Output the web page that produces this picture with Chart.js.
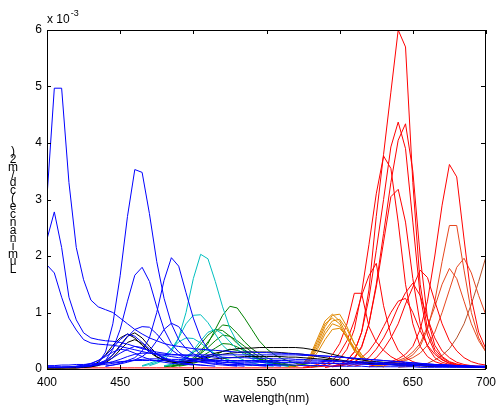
<!DOCTYPE html>
<html>
<head>
<meta charset="utf-8">
<script src="https://cdn.jsdelivr.net/npm/chart.js@4/dist/chart.umd.min.js"></script>
<style>
  html, body { margin: 0; padding: 0; background: #fff; }
  #wrap { width: 496px; height: 410px; }
</style>
</head>
<body>
<div id="wrap"><canvas id="spectra" width="496" height="410"></canvas></div>
<script>
// luminance spectra, values in units of 1e-3, sampled every 5 nm
const STEP = 5;
const xTicks = [400, 450, 500, 550, 600, 650, 700];
const yTicks = [0, 1, 2, 3, 4, 5, 6];
const yLabel = "Luminance(cd/m2)";
const xLabel = "wavelength(nm)";

// blue
const blue1 = { from: 400, y: [
  3.05, 4.97, 4.97, 3.3, 2.15, 1.58, 1.22, 1.1, 1.05, 1.0,
  0.9, 0.8, 0.7, 0.62, 0.55, 0.5, 0.45, 0.42, 0.4, 0.38,
  0.36, 0.35, 0.34, 0.33, 0.32, 0.31, 0.3, 0.3, 0.3, 0.29,
  0.29, 0.28, 0.28, 0.27, 0.27, 0.26, 0.25, 0.24, 0.23, 0.22,
  0.21, 0.2, 0.19, 0.18, 0.17, 0.16, 0.15, 0.14, 0.13, 0.12,
  0.11, 0.1, 0.09, 0.08, 0.08, 0.07, 0.06, 0.06, 0.05, 0.05,
  0.05] };
const blue2 = { from: 400, y: [
  2.3, 2.78, 2.15, 1.27, 0.87, 0.64, 0.55, 0.52, 0.5, 0.49,
  0.47, 0.44, 0.4, 0.36, 0.33, 0.3, 0.28, 0.26, 0.25, 0.24,
  0.23, 0.22, 0.22, 0.21, 0.21, 0.2, 0.2, 0.2, 0.19, 0.19,
  0.19, 0.18, 0.18, 0.18, 0.17, 0.17, 0.16, 0.16, 0.15, 0.15,
  0.14, 0.14, 0.13, 0.13, 0.12, 0.12, 0.11, 0.11, 0.1, 0.1,
  0.09, 0.09, 0.08, 0.08, 0.07, 0.07, 0.06, 0.06, 0.05, 0.05,
  0.05] };
const blue3 = { from: 400, y: [
  1.84, 1.7, 1.27, 0.9, 0.69, 0.52, 0.46, 0.44, 0.43, 0.42,
  0.4, 0.37, 0.34, 0.31, 0.28, 0.26, 0.24, 0.22, 0.2, 0.19,
  0.18, 0.17, 0.16, 0.16, 0.15, 0.15, 0.14, 0.14, 0.14, 0.13,
  0.13, 0.13, 0.12, 0.12, 0.12, 0.11, 0.11, 0.11, 0.1, 0.1,
  0.1, 0.09, 0.09, 0.09, 0.08, 0.08, 0.08, 0.07, 0.07, 0.07,
  0.06, 0.06, 0.06, 0.05, 0.05, 0.05, 0.04, 0.04, 0.04, 0.04,
  0.03] };
const blue4 = { from: 400, y: [
  0.03, 0.03, 0.03, 0.03, 0.04, 0.04, 0.05, 0.1, 0.3, 0.8,
  1.65, 2.7, 3.53, 3.48, 2.75, 1.9, 1.25, 0.8, 0.52, 0.36,
  0.27, 0.21, 0.17, 0.14, 0.12, 0.11, 0.1, 0.09, 0.09, 0.08,
  0.08, 0.08, 0.07, 0.07, 0.07, 0.06, 0.06, 0.06, 0.06, 0.05,
  0.05, 0.05, 0.05, 0.05, 0.04, 0.04, 0.04, 0.04, 0.04, 0.04,
  0.04, 0.03, 0.03, 0.03, 0.03, 0.03, 0.03, 0.03, 0.03, 0.03,
  0.03] };
const blue5 = { from: 420, y: [
  0.03, 0.04, 0.06, 0.09, 0.15, 0.35, 0.7, 1.2, 1.66, 1.8,
  1.55, 1.1, 0.7, 0.45, 0.3, 0.21, 0.16, 0.13, 0.11, 0.1,
  0.09, 0.08, 0.08, 0.07, 0.07, 0.06, 0.06, 0.06, 0.05] };
const blue6 = { from: 440, y: [
  0.05, 0.07, 0.1, 0.15, 0.2, 0.32, 0.55, 1.0, 1.57, 1.97,
  1.82, 1.35, 0.9, 0.55, 0.35, 0.23, 0.16, 0.12, 0.1, 0.08,
  0.07, 0.06, 0.05] };
const blue7 = { from: 440, y: [
  0.05, 0.07, 0.09, 0.12, 0.16, 0.22, 0.32, 0.5, 0.7, 0.81,
  0.75, 0.57, 0.38, 0.25, 0.17, 0.12, 0.09, 0.07, 0.06, 0.05] };
const blue8 = { from: 420, y: [
  0.04, 0.05, 0.07, 0.1, 0.15, 0.25, 0.4, 0.57, 0.7, 0.75,
  0.74, 0.62, 0.47, 0.34, 0.25, 0.19, 0.15, 0.12, 0.1, 0.08,
  0.07, 0.06, 0.05] };
const blue9 = { from: 420, y: [
  0.04, 0.06, 0.09, 0.15, 0.24, 0.37, 0.52, 0.62, 0.58, 0.47,
  0.36, 0.27, 0.2, 0.15, 0.12, 0.1, 0.08, 0.07, 0.06, 0.05] };
const blue10 = { from: 430, y: [
  0.05, 0.08, 0.13, 0.2, 0.28, 0.35, 0.4, 0.38, 0.32, 0.25,
  0.19, 0.15, 0.12, 0.1, 0.08, 0.07, 0.06] };
const blue11 = { from: 420, y: [
  0.05, 0.07, 0.1, 0.15, 0.22, 0.3, 0.35, 0.33, 0.28, 0.22,
  0.17, 0.14, 0.12, 0.1, 0.09, 0.08, 0.07] };
const blueF1 = { from: 400, y: [
  0.06, 0.06, 0.07, 0.07, 0.08, 0.08, 0.09, 0.1, 0.11, 0.12,
  0.13, 0.14, 0.15, 0.15, 0.15, 0.15, 0.15, 0.14, 0.14, 0.14,
  0.13, 0.13, 0.13, 0.13, 0.12, 0.12, 0.12, 0.12, 0.12, 0.12,
  0.11, 0.11, 0.11, 0.11, 0.11, 0.1, 0.1, 0.1, 0.1, 0.1,
  0.09, 0.09, 0.09, 0.09, 0.08, 0.08, 0.08, 0.08, 0.07, 0.07,
  0.07, 0.06, 0.06, 0.06, 0.05, 0.05, 0.05, 0.04, 0.04, 0.04,
  0.03] };
const blueF2 = { from: 400, y: [
  0.03, 0.03, 0.03, 0.04, 0.04, 0.05, 0.06, 0.08, 0.1, 0.13,
  0.17, 0.22, 0.26, 0.28, 0.28, 0.27, 0.26, 0.25, 0.25, 0.25,
  0.25, 0.25, 0.25, 0.25, 0.25, 0.25, 0.25, 0.25, 0.25, 0.25,
  0.25, 0.25, 0.25, 0.25, 0.25, 0.24, 0.24, 0.23, 0.23, 0.22,
  0.21, 0.2, 0.19, 0.18, 0.17, 0.16, 0.15, 0.14, 0.13, 0.12,
  0.11, 0.1, 0.09, 0.08, 0.07, 0.06, 0.06, 0.05, 0.05, 0.04,
  0.04] };
const blueF3 = { from: 400, y: [
  0.04, 0.04, 0.04, 0.04, 0.05, 0.05, 0.06, 0.07, 0.08, 0.1,
  0.12, 0.14, 0.16, 0.17, 0.18, 0.18, 0.18, 0.17, 0.17, 0.16,
  0.16, 0.16, 0.15, 0.15, 0.15, 0.15, 0.15, 0.15, 0.15, 0.15,
  0.15, 0.15, 0.15, 0.15, 0.14, 0.14, 0.14, 0.14, 0.13, 0.13,
  0.13, 0.12, 0.12, 0.11, 0.11, 0.1, 0.1, 0.09, 0.09, 0.08,
  0.08, 0.07, 0.07, 0.06, 0.06, 0.05, 0.05, 0.04, 0.04, 0.04,
  0.03] };

// black (white LEDs)
const black1 = { from: 400, y: [
  0.02, 0.02, 0.02, 0.02, 0.02, 0.03, 0.04, 0.07, 0.13, 0.25,
  0.42, 0.58, 0.64, 0.55, 0.4, 0.27, 0.18, 0.14, 0.13, 0.14,
  0.17, 0.2, 0.24, 0.28, 0.31, 0.34, 0.36, 0.37, 0.37, 0.38,
  0.38, 0.38, 0.38, 0.38, 0.38, 0.37, 0.35, 0.32, 0.29, 0.26,
  0.23, 0.2, 0.18, 0.16, 0.14, 0.13, 0.12, 0.11, 0.1, 0.09,
  0.09, 0.08, 0.07, 0.07, 0.06, 0.06, 0.05, 0.05, 0.05, 0.04,
  0.04] };
const black2 = { from: 400, y: [
  0.02, 0.02, 0.02, 0.02, 0.02, 0.03, 0.04, 0.06, 0.11, 0.2,
  0.34, 0.47, 0.52, 0.45, 0.33, 0.22, 0.15, 0.12, 0.11, 0.11,
  0.12, 0.14, 0.16, 0.18, 0.19, 0.2, 0.21, 0.22, 0.22, 0.22,
  0.22, 0.22, 0.22, 0.21, 0.21, 0.2, 0.19, 0.18, 0.17, 0.16,
  0.14, 0.13, 0.12, 0.11, 0.1, 0.09, 0.08, 0.08, 0.07, 0.07,
  0.06, 0.06, 0.05, 0.05, 0.05, 0.04, 0.04, 0.04, 0.03, 0.03,
  0.03] };
const black3 = { from: 400, y: [
  0.02, 0.02, 0.02, 0.03, 0.03, 0.04, 0.06, 0.12, 0.25, 0.42,
  0.55, 0.62, 0.55, 0.42, 0.3, 0.21, 0.16, 0.13, 0.12, 0.13,
  0.15, 0.18, 0.21, 0.24, 0.26, 0.28, 0.29, 0.3, 0.3, 0.3,
  0.3, 0.3, 0.29, 0.28, 0.27, 0.26, 0.24, 0.22, 0.2, 0.18,
  0.16, 0.14, 0.13, 0.12, 0.11, 0.1, 0.09, 0.08, 0.07, 0.07,
  0.06, 0.06, 0.05, 0.05, 0.05, 0.04, 0.04, 0.04, 0.03, 0.03,
  0.03] };

// cyan
const cyan1 = { from: 470, y: [
  0.06, 0.1, 0.16, 0.3, 0.55, 1.0, 1.6, 2.03, 1.95, 1.55,
  1.1, 0.72, 0.47, 0.32, 0.22, 0.15, 0.11, 0.08, 0.06, 0.05] };
const cyan2 = { from: 465, y: [
  0.05, 0.08, 0.12, 0.2, 0.35, 0.55, 0.8, 0.95, 0.96, 0.82,
  0.62, 0.42, 0.3, 0.21, 0.15, 0.11, 0.08, 0.06, 0.05] };
const cyan3 = { from: 480, y: [
  0.06, 0.08, 0.12, 0.2, 0.33, 0.5, 0.65, 0.7, 0.62, 0.48,
  0.35, 0.25, 0.18, 0.13, 0.1, 0.08, 0.06] };
const cyan4 = { from: 465, y: [
  0.06, 0.1, 0.15, 0.23, 0.35, 0.48, 0.55, 0.54, 0.46, 0.36,
  0.27, 0.2, 0.15, 0.11, 0.08, 0.06] };
const cyan5 = { from: 480, y: [
  0.05, 0.08, 0.14, 0.22, 0.3, 0.35, 0.33, 0.27, 0.2, 0.15,
  0.11, 0.08, 0.06] };

// green
const green1 = { from: 480, y: [
  0.04, 0.05, 0.07, 0.1, 0.16, 0.28, 0.45, 0.7, 0.95, 1.11,
  1.08, 0.9, 0.7, 0.5, 0.36, 0.26, 0.19, 0.14, 0.1, 0.08,
  0.06, 0.05] };
const green2 = { from: 485, y: [
  0.05, 0.08, 0.12, 0.2, 0.32, 0.48, 0.65, 0.78, 0.76, 0.63,
  0.48, 0.36, 0.27, 0.2, 0.15, 0.11, 0.08, 0.06] };
const green3 = { from: 480, y: [
  0.05, 0.07, 0.11, 0.18, 0.29, 0.44, 0.6, 0.7, 0.68, 0.58,
  0.45, 0.34, 0.25, 0.18, 0.13, 0.1, 0.07, 0.05] };
const green4 = { from: 485, y: [
  0.05, 0.08, 0.12, 0.18, 0.27, 0.38, 0.5, 0.6, 0.58, 0.5,
  0.4, 0.3, 0.22, 0.16, 0.12, 0.09, 0.07, 0.05] };
const green5 = { from: 485, y: [
  0.04, 0.06, 0.09, 0.14, 0.21, 0.29, 0.37, 0.45, 0.44, 0.39,
  0.32, 0.25, 0.19, 0.14, 0.1, 0.08, 0.06] };
const green6 = { from: 490, y: [
  0.05, 0.07, 0.1, 0.14, 0.19, 0.25, 0.31, 0.35, 0.33, 0.28,
  0.22, 0.17, 0.13, 0.1, 0.08, 0.06] };

// orange
const orange1 = { from: 565, y: [0.04, 0.06, 0.1, 0.25, 0.55, 0.85, 0.97, 0.85, 0.6, 0.35, 0.2, 0.1, 0.06, 0.04] };
const orange2 = { from: 565, y: [0.04, 0.06, 0.1, 0.2, 0.45, 0.75, 0.95, 0.97, 0.75, 0.45, 0.25, 0.13, 0.07, 0.04] };
const orange3 = { from: 565, y: [0.04, 0.06, 0.1, 0.22, 0.5, 0.8, 0.9, 0.8, 0.55, 0.32, 0.18, 0.1, 0.06, 0.04] };
const orange4 = { from: 565, y: [0.04, 0.05, 0.08, 0.18, 0.4, 0.68, 0.85, 0.88, 0.7, 0.45, 0.25, 0.13, 0.07, 0.04] };
const orange5 = { from: 565, y: [0.04, 0.05, 0.08, 0.16, 0.36, 0.62, 0.8, 0.75, 0.55, 0.35, 0.2, 0.11, 0.06, 0.04] };
const orange6 = { from: 565, y: [0.04, 0.05, 0.07, 0.13, 0.3, 0.52, 0.7, 0.72, 0.58, 0.38, 0.22, 0.12, 0.07, 0.04] };

// red
const red1 = { from: 590, y: [
  0.03, 0.05, 0.08, 0.15, 0.3, 0.65, 1.4, 2.7, 3.8, 4.9,
  6.0, 5.7, 3.3, 1.5, 0.7, 0.35, 0.2, 0.12, 0.08, 0.06,
  0.05, 0.04, 0.03] };
const red2 = { from: 590, y: [
  0.03, 0.05, 0.08, 0.15, 0.3, 0.65, 1.25, 2.1, 3.0, 3.93,
  4.37, 3.9, 2.6, 1.3, 0.6, 0.3, 0.17, 0.1, 0.07, 0.05,
  0.04, 0.03, 0.03] };
const red3 = { from: 595, y: [
  0.04, 0.06, 0.1, 0.18, 0.38, 0.8, 1.5, 2.4, 3.3, 4.05,
  4.34, 3.5, 2.0, 0.9, 0.42, 0.22, 0.13, 0.09, 0.06, 0.05,
  0.04, 0.03] };
const red4 = { from: 400, y: [
  0.02, 0.02, 0.02, 0.02, 0.02, 0.02, 0.02, 0.02, 0.02, 0.02,
  0.02, 0.02, 0.02, 0.02, 0.02, 0.02, 0.02, 0.02, 0.02, 0.02,
  0.02, 0.02, 0.02, 0.02, 0.02, 0.02, 0.02, 0.02, 0.02, 0.02,
  0.02, 0.02, 0.02, 0.02, 0.02, 0.02, 0.03, 0.04, 0.05, 0.1,
  0.18, 0.35, 0.7, 1.35, 2.2, 3.1, 3.77, 3.55, 2.6, 1.5,
  0.8, 0.4, 0.22, 0.13, 0.09, 0.06, 0.05, 0.04, 0.03, 0.03,
  0.02] };
const red5 = { from: 595, y: [
  0.04, 0.06, 0.1, 0.2, 0.4, 0.8, 1.45, 2.25, 3.05, 3.18,
  2.6, 1.6, 0.8, 0.4, 0.2, 0.12, 0.08, 0.06, 0.05, 0.04,
  0.03, 0.03] };
const red6 = { from: 580, y: [
  0.03, 0.05, 0.08, 0.15, 0.28, 0.5, 0.85, 1.3, 1.65, 1.87,
  1.12, 0.6, 0.33, 0.2, 0.13, 0.09, 0.07, 0.05] };
const red7 = { from: 575, y: [
  0.03, 0.05, 0.08, 0.13, 0.25, 0.45, 0.8, 1.34, 1.34, 0.75,
  0.48, 0.33, 0.22, 0.15, 0.1, 0.07, 0.05] };
const red8 = { from: 620, y: [
  0.05, 0.07, 0.1, 0.13, 0.18, 0.26, 0.4, 0.7, 1.2, 2.0,
  2.9, 3.62, 3.4, 2.3, 1.25, 0.65, 0.35] };
const red12 = { from: 610, y: [
  0.05, 0.08, 0.12, 0.2, 0.35, 0.55, 0.8, 1.15, 1.45, 1.75,
  1.62, 1.2, 0.8, 0.5, 0.32, 0.2, 0.13, 0.09, 0.07] };
const red13 = { from: 605, y: [
  0.05, 0.08, 0.12, 0.2, 0.35, 0.55, 0.8, 1.1, 1.35, 1.52,
  1.3, 0.9, 0.55, 0.32, 0.2, 0.12, 0.08, 0.06, 0.05, 0.04] };
const red14 = { from: 600, y: [
  0.05, 0.08, 0.13, 0.2, 0.32, 0.5, 0.75, 1.0, 1.2, 1.25,
  1.0, 0.68, 0.42, 0.26, 0.16, 0.1, 0.07, 0.05] };

// deep red / brown
const deep1 = { from: 620, y: [
  0.04, 0.06, 0.08, 0.1, 0.13, 0.17, 0.25, 0.4, 0.7, 1.2,
  1.9, 2.54, 2.54, 1.75, 1.0, 0.55, 0.3] };
const deep2 = { from: 625, y: [
  0.04, 0.06, 0.08, 0.11, 0.15, 0.2, 0.28, 0.42, 0.65, 1.0,
  1.4, 1.8, 1.96, 1.7, 1.3, 0.95] };
const deep3 = { from: 620, y: [
  0.04, 0.06, 0.08, 0.11, 0.15, 0.2, 0.3, 0.45, 0.75, 1.1,
  1.5, 1.78, 1.6, 1.2, 0.8, 0.5, 0.3] };
const brown1 = { from: 640, y: [0.03, 0.04, 0.05, 0.07, 0.1, 0.16, 0.24, 0.36, 0.55, 0.8, 1.15, 1.55, 1.99] };

const groups = [
  { color: "#0000ff", list: [blue1, blue2, blue3, blue4, blue5, blue6, blue7, blue8, blue9, blue10, blue11, blueF1, blueF2, blueF3] },
  { color: "#000000", list: [black1, black2, black3] },
  { color: "#00bfbf", list: [cyan1, cyan2, cyan3, cyan4, cyan5] },
  { color: "#008000", list: [green1, green2, green3, green4, green5, green6] },
  { color: "#e08800", list: [orange1, orange2, orange3, orange4, orange5, orange6] },
  { color: "#ff0000", list: [red1, red2, red3, red4, red5, red6, red7, red8, red12, red13, red14] },
  { color: "#e6461e", list: [deep1, deep2, deep3] },
  { color: "#b4502a", list: [brown1] }
];

const datasets = [];
groups.forEach(g => {
  g.list.forEach(s => {
    datasets.push({
      data: s.y.map((v, i) => ({ x: s.from + i * STEP, y: v })),
      borderColor: g.color,
      borderWidth: 1,
      pointRadius: 0,
      tension: 0,
      fill: false
    });
  });
});

const FONT = "'Liberation Sans', Arial, Helvetica, sans-serif";

const frame = {
  id: "frame",
  afterDraw(chart) {
    const c = chart.ctx, a = chart.chartArea;
    const xs = chart.scales.x, ys = chart.scales.y;
    c.save();
    c.strokeStyle = "#000";
    c.lineWidth = 1;
    c.strokeRect(Math.round(a.left) + 0.5, Math.round(a.top) + 0.5,
                 Math.round(a.right - a.left) - 1, Math.round(a.bottom - a.top));
    c.beginPath();
    xTicks.forEach(t => {
      const px = Math.round(xs.getPixelForValue(t)) + 0.5;
      c.moveTo(px, a.bottom); c.lineTo(px, a.bottom - 4);
      c.moveTo(px, a.top); c.lineTo(px, a.top + 4);
    });
    yTicks.forEach(t => {
      const py = Math.round(ys.getPixelForValue(t)) + 0.5;
      c.moveTo(a.left, py); c.lineTo(a.left + 4, py);
      c.moveTo(a.right, py); c.lineTo(a.right - 5, py);
    });
    c.stroke();

    // exponent label
    c.fillStyle = "#000";
    c.textBaseline = "alphabetic";
    c.textAlign = "left";
    c.font = "12px " + FONT;
    c.fillText("x 10", a.left, 23);
    const w = c.measureText("x 10").width;
    c.font = "9px " + FONT;
    c.fillText("-3", a.left + w + 1, 16);

    // y label, characters stacked bottom to top
    c.font = "12px " + FONT;
    c.textAlign = "center";
    c.textBaseline = "middle";
    const chars = Array.from(yLabel);
    chars.forEach((ch, i) => {
      c.fillText(ch, 13, 270 - i * 7.9);
    });
    c.restore();
  }
};

new Chart(document.getElementById("spectra"), {
  type: "line",
  data: { datasets },
  options: {
    responsive: false,
    animation: false,
    layout: { padding: { top: 30, right: 10, left: 0, bottom: 0 } },
    plugins: { legend: { display: false }, tooltip: { enabled: false } },
    scales: {
      x: {
        type: "linear",
        min: 400, max: 700,
        afterFit: s => { s.height = 41; s.paddingLeft = 0; s.paddingRight = 0; },
        afterBuildTicks: s => { s.ticks = xTicks.map(v => ({ value: v })); },
        grid: { display: false, drawTicks: false },
        border: { display: false },
        ticks: { color: "#000", padding: 6, maxRotation: 0, font: { size: 12, family: FONT } },
        title: { display: true, text: xLabel, color: "#000", padding: { top: 0, bottom: 4 }, font: { size: 12, family: FONT } }
      },
      y: {
        min: 0, max: 6,
        afterFit: s => { s.width = 47; s.paddingTop = 0; s.paddingBottom = 0; },
        afterBuildTicks: s => { s.ticks = yTicks.map(v => ({ value: v })); },
        grid: { display: false, drawTicks: false },
        border: { display: false },
        ticks: { color: "#000", padding: 5, font: { size: 12, family: FONT } }
      }
    }
  },
  plugins: [frame]
});
</script>
</body>
</html>
